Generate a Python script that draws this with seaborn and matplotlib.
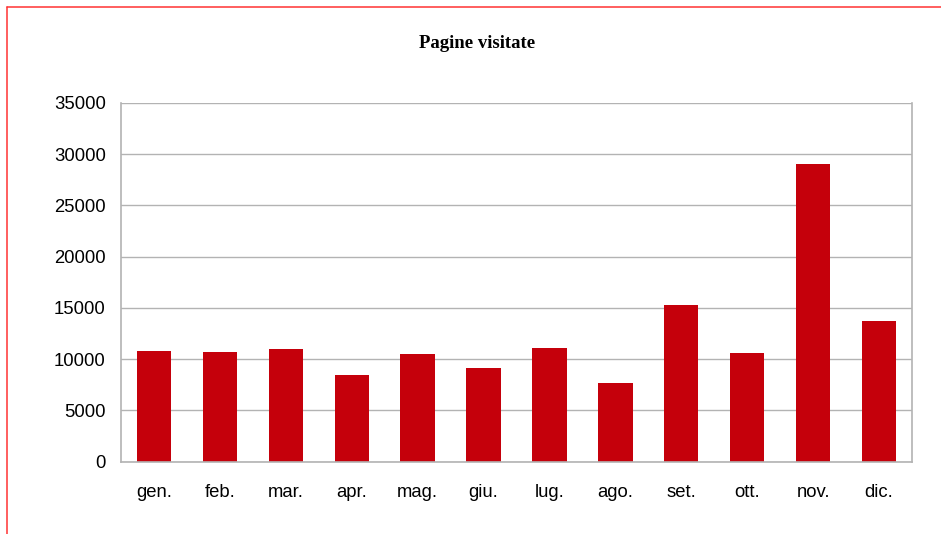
import matplotlib
matplotlib.use("Agg")
import matplotlib.pyplot as plt
from matplotlib.lines import Line2D
import seaborn as sns
import pandas as pd
import numpy as np

# dati
mesi = ['gen.', 'feb.', 'mar.', 'apr.', 'mag.', 'giu.', 'lug.', 'ago.', 'set.', 'ott.', 'nov.', 'dic.']
pagine = [10820, 10720, 11010, 8480, 10530, 9160, 11110, 7700, 15310, 10630, 29080, 13750]
y_ticks = [0, 5000, 10000, 15000, 20000, 25000, 30000, 35000]

df = pd.DataFrame({'Mese': mesi, 'Pagine': pagine})

sns.set_style('white')
plt.rcParams['font.family'] = ['Liberation Sans', 'DejaVu Sans']

fig = plt.figure(figsize=(9.41, 5.34), dpi=100)
ax = fig.add_axes([121 / 941, 1 - 461.7 / 534, (912 - 121) / 941, (461.7 - 103) / 534])

sns.barplot(data=df, x='Mese', y='Pagine', color='#c5000b', width=0.52,
            saturation=1, linewidth=0, ax=ax)

grigio = '#b3b3b3'
ax.set_ylim(0, 35000)
ax.set_xlim(-0.5, len(mesi) - 0.5)
ax.set_yticks(y_ticks)
ax.set_yticklabels([str(v) for v in y_ticks], fontsize=13.3, color='black')
ax.set_xticks(np.arange(len(mesi)))
ax.set_xticklabels(mesi, fontsize=13.3, color='black')
ax.set_xticks(np.arange(-0.5, len(mesi)), minor=True)
ax.tick_params(axis='x', which='major', length=0, pad=16)
ax.tick_params(axis='x', which='minor', length=6, width=1.2, color=grigio, direction='out')
ax.tick_params(axis='y', length=6, width=1.2, color=grigio, direction='out', pad=5)
ax.set_xlabel('')
ax.set_ylabel('')

ax.grid(axis='y', color=grigio, linewidth=1.0)
ax.set_axisbelow(True)
for s in ['left', 'bottom', 'right']:
    ax.spines[s].set_visible(True)
    ax.spines[s].set_color(grigio)
    ax.spines[s].set_linewidth(1.2)
ax.spines['top'].set_visible(False)

fig.text(477 / 941, 1 - 43 / 534, 'Pagine visitate', ha='center', va='center',
         fontsize=13.5, fontweight='bold', color='black',
         family=['Liberation Serif', 'DejaVu Serif'])

# bordo rosso della figura
bordo = '#ff3333'
fig.add_artist(Line2D([6.5 / 941, 1], [1 - 6.5 / 534, 1 - 6.5 / 534], color=bordo, lw=1.1,
                      transform=fig.transFigure))
fig.add_artist(Line2D([6.5 / 941, 6.5 / 941], [0, 1 - 6.5 / 534], color=bordo, lw=1.1,
                      transform=fig.transFigure))

fig.savefig('out.png', dpi=100)
